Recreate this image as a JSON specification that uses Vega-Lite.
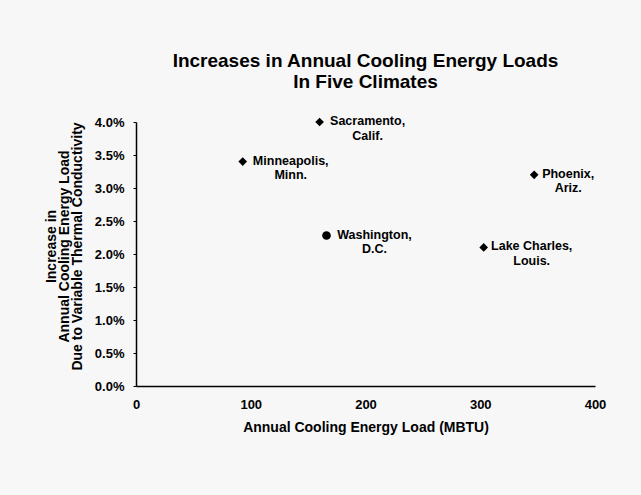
{
  "$schema": "https://vega.github.io/schema/vega-lite/v6.json",
  "width": 459,
  "height": 264,
  "autosize": "none",
  "padding": {"left": 136, "top": 122, "right": 46, "bottom": 109},
  "background": "#f7f7f7",
  "title": {
    "text": ["Increases in Annual Cooling Energy Loads", "In Five Climates"],
    "anchor": "middle",
    "frame": "group",
    "font": "Liberation Sans",
    "fontSize": 19,
    "fontWeight": "bold",
    "lineHeight": 21,
    "offset": 23,
    "color": "#000000"
  },
  "data": {
    "values": [
      {"city": "Sacramento", "label": "Sacramento,\nCalif.", "load": 160, "increase": 0.040},
      {"city": "Minneapolis", "label": "Minneapolis,\nMinn.", "load": 93, "increase": 0.034},
      {"city": "Washington", "label": "Washington,\nD.C.", "load": 166, "increase": 0.0228},
      {"city": "Lake Charles", "label": "Lake Charles,\nLouis.", "load": 303, "increase": 0.021},
      {"city": "Phoenix", "label": "Phoenix,\nAriz.", "load": 347, "increase": 0.032}
    ]
  },
  "config": {
    "view": {"stroke": null},
    "axis": {
      "grid": false,
      "domainColor": "#000000",
      "domainWidth": 1.5,
      "tickColor": "#000000",
      "labelColor": "#000000",
      "titleColor": "#000000",
      "labelFont": "Liberation Sans",
      "titleFont": "Liberation Sans",
      "labelFontWeight": "bold",
      "labelFontSize": 13,
      "titleFontSize": 14,
      "titleFontWeight": "bold"
    }
  },
  "encoding": {
    "x": {
      "field": "load",
      "type": "quantitative",
      "scale": {"domain": [0, 400], "nice": false, "zero": true},
      "axis": {
        "title": "Annual Cooling Energy Load (MBTU)",
        "values": [0, 100, 200, 300, 400],
        "ticks": false,
        "labelPadding": 12,
        "titlePadding": 9,
        "labelFlush": false
      }
    },
    "y": {
      "field": "increase",
      "type": "quantitative",
      "scale": {"domain": [0, 0.04], "nice": false},
      "axis": {
        "title": ["Increase in", "Annual Cooling Energy Load", "Due to Variable Thermal Conductivity"],
        "titleLineHeight": 13,
        "titlePadding": 10,
        "titleY": 124,
        "values": [0, 0.005, 0.01, 0.015, 0.02, 0.025, 0.03, 0.035, 0.04],
        "format": ".1%",
        "tickSize": 3,
        "labelPadding": 9,
        "labelFlush": false
      }
    }
  },
  "layer": [
    {
      "mark": {"type": "point", "filled": true, "opacity": 1, "color": "#000000", "size": 75},
      "encoding": {
        "shape": {
          "field": "city",
          "type": "nominal",
          "scale": {
            "domain": ["Sacramento", "Minneapolis", "Washington", "Lake Charles", "Phoenix"],
            "range": ["diamond", "diamond", "circle", "diamond", "diamond"]
          },
          "legend": null
        }
      }
    },
    {
      "transform": [{"filter": "datum.city !== 'Phoenix'"}],
      "mark": {
        "type": "text",
        "align": "center",
        "baseline": "middle",
        "lineBreak": "\n",
        "lineHeight": 14.5,
        "dx": 48,
        "dy": -1,
        "font": "Liberation Sans",
        "fontSize": 12.5,
        "fontWeight": "bold",
        "color": "#000000"
      },
      "encoding": {"text": {"field": "label", "type": "nominal"}}
    },
    {
      "transform": [{"filter": "datum.city === 'Phoenix'"}],
      "mark": {
        "type": "text",
        "align": "center",
        "baseline": "middle",
        "lineBreak": "\n",
        "lineHeight": 14.5,
        "dx": 34,
        "dy": -1,
        "font": "Liberation Sans",
        "fontSize": 12.5,
        "fontWeight": "bold",
        "color": "#000000"
      },
      "encoding": {"text": {"field": "label", "type": "nominal"}}
    }
  ]
}
